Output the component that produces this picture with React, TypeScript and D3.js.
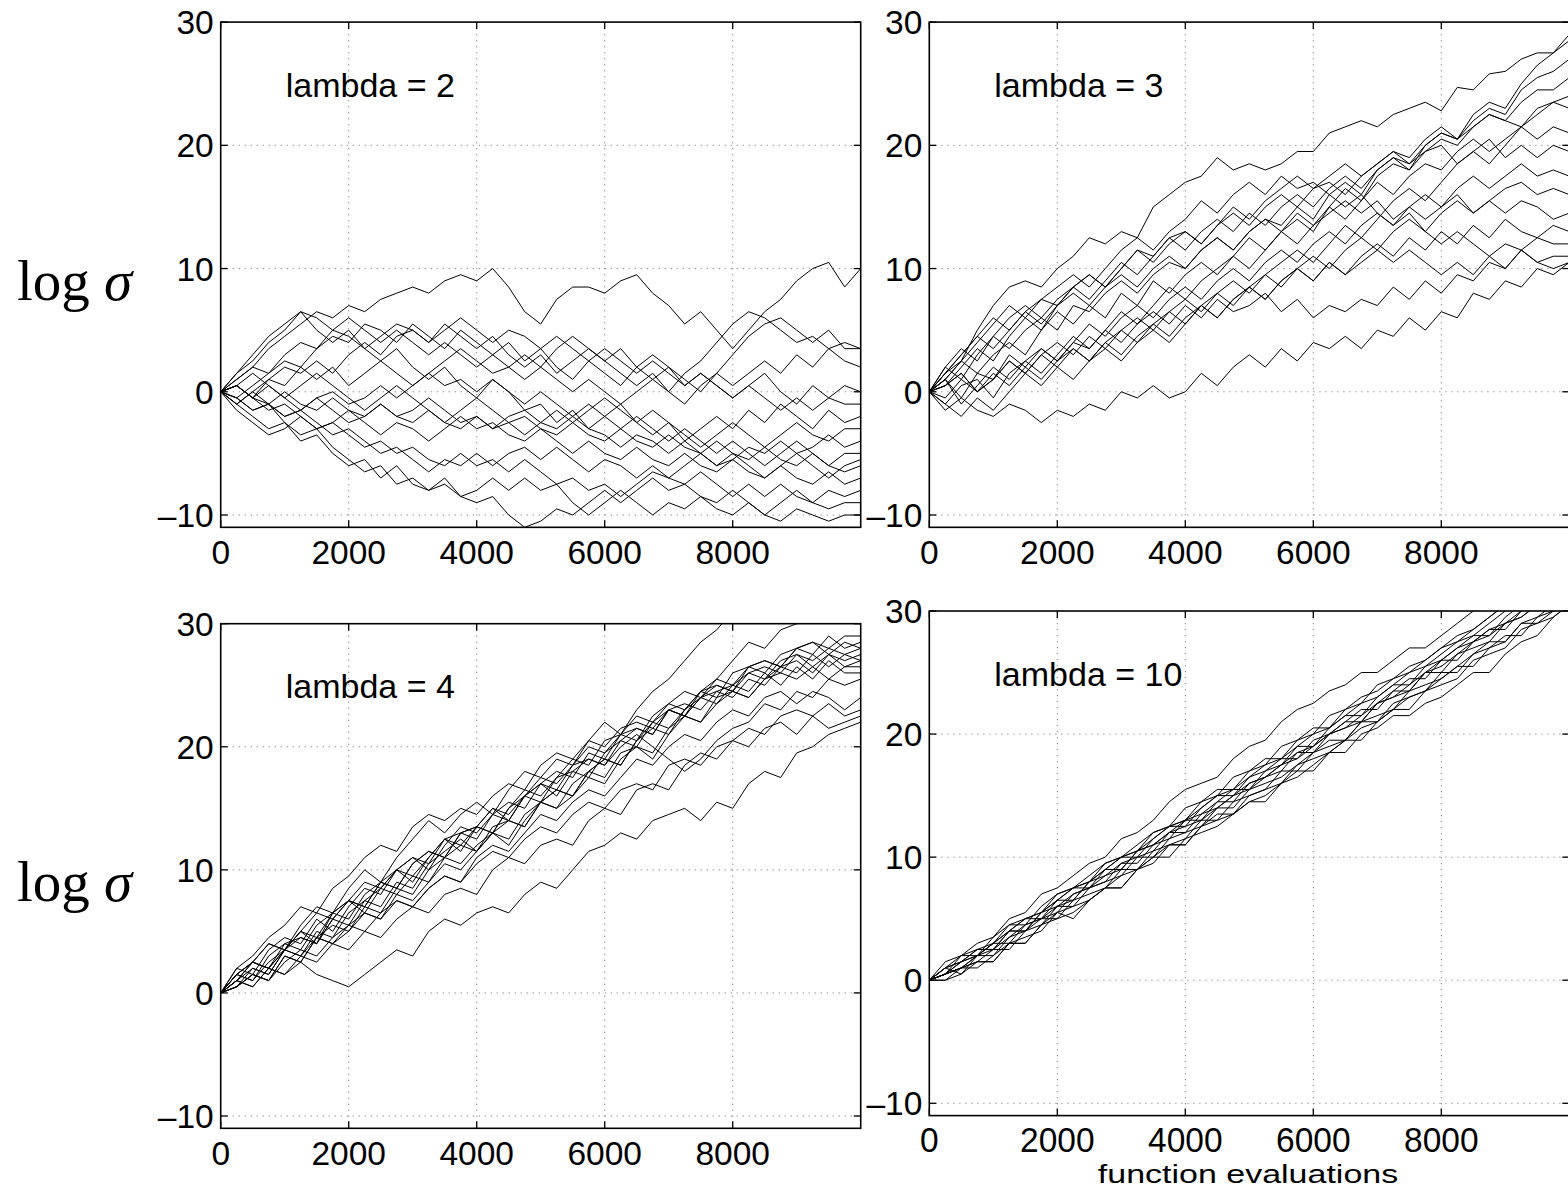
import React from "react";
import * as d3 from "d3";

// log sigma of 16 runs per lambda, read every 250 function evaluations
const evalStep = 250;
const xTicks = [0, 2000, 4000, 6000, 8000];
const yTicks = [-10, 0, 10, 20, 30];
const yGrid = [-10, 0, 10, 20];
const xGrid = [2000, 4000, 6000, 8000];

const lambda2Runs = [
  [0, 1, 2, 3.5, 4.5, 5.5, 6.5, 6, 7, 6.5, 7.5, 8, 8.5, 8, 9, 9.5, 9, 10, 8.5, 6.5, 5.5, 7.5, 8.5, 8.5, 8, 9, 9.5, 8, 7, 5.5, 6.5, 5, 3.5, 5, 6.5, 7.5, 9, 10, 10.5, 8.5, 10],
  [0, 1.5, 3, 4.5, 5.5, 6.5, 5, 4, 5, 3.5, 2.5, 3.5, 2, 1, 2, 0.5, -0.5, 1, 0, -1.5, -1, -2.5, -1.5, -3, -2, -1, -2.5, -3.5, -2.5, -4, -3, -2, -3, -1.5, -2.5, -1, -2, -3, -1.5, -2.5, -2],
  [0, -0.5, 0.5, 1.5, 2.5, 2, 3.5, 4.5, 4, 5.5, 5, 4, 5.5, 4.5, 3.5, 5, 4, 3, 4, 2.5, 3.5, 2, 1, 2.5, 1.5, 0.5, 2, 3, 2, 1, 0, 1.5, 3, 4.5, 5.5, 6, 5, 4, 5, 3.5, 3.5],
  [0, 0.5, -0.5, 1, 2, 1.5, 2.5, 1.5, 3, 4, 3, 4.5, 5, 4, 5.5, 4.5, 3.5, 4.5, 3, 2, 3, 1.5, 2.5, 3.5, 2.5, 1.5, 0.5, 1.5, 0, -1, 0.5, 1.5, 0.5, 1.5, 2.5, 1.5, 3, 2, 3.5, 2.5, 2],
  [0, -1, 0, 1, 0.5, 2, 1, 2, 0.5, 1.5, 2.5, 1.5, 0.5, 1.5, 2.5, 3.5, 2.5, 1.5, 2, 3, 2, 3.5, 4.5, 3.5, 2.5, 3.5, 2, 1, 2, 0.5, 1.5, 0.5, -0.5, 0.5, 1.5, 0, -1, 0.5, -0.5, 0.5, 0],
  [0, 0.5, -0.5, -1, 0, -1, -1.5, -0.5, -1.5, -2, -1, -2, -2.5, -1.5, -2.5, -3, -2, -3, -2.5, -2, -3, -3.5, -2.5, -3.5, -4, -3, -4, -4.5, -3.5, -4.5, -5, -4, -5, -5.5, -4.5, -5.5, -6, -5, -6, -6.5, -6],
  [0, -0.5, -1.5, -1, -2, -1.5, -0.5, -1.5, -2.5, -2, -1, -2, -1.5, -0.5, -1.5, -2.5, -2, -3, -2, -1.5, -2.5, -3, -2, -3, -3.5, -4.5, -3.5, -4, -5, -4, -5, -6, -5, -6, -7, -6, -5, -6, -7, -6, -5.5],
  [0, -1, -2, -3, -2.5, -4, -3.5, -5, -6, -5.5, -7, -6, -7.5, -8, -7, -8.5, -8, -7, -8, -7, -8, -7.5, -9, -10, -9, -8, -9, -10, -9, -9.5, -8.5, -9.5, -10, -9, -10, -10.5, -9.5, -10, -10.5, -10, -10],
  [0, -0.5, -1.5, -1, -2.5, -3.5, -3, -4.5, -5.5, -6.5, -6, -7.5, -7, -8, -7.5, -8.5, -9, -8.5, -10, -11, -10.5, -9.5, -10, -9, -8, -9, -8, -7, -8, -7.5, -8.5, -9, -8, -9, -10, -9, -8, -9, -9.5, -9, -9],
  [0, 0.5, -0.5, -1.5, -1, -2, -3, -2.5, -3.5, -4.5, -4, -5, -4.5, -5.5, -6, -5, -6, -5.5, -6.5, -5.5, -6.5, -7.5, -7, -8, -7.5, -8.5, -7.5, -6.5, -7, -6, -5, -6, -5.5, -4.5, -5, -4, -5, -4.5, -3.5, -4.5, -4],
  [0, -1.5, -2.5, -3.5, -3, -2, -3, -2.5, -1.5, -2.5, -3.5, -2.5, -3, -4, -3, -2, -3, -2.5, -3.5, -4, -3, -4, -5, -4, -5, -5.5, -4.5, -5.5, -6, -5, -6, -6.5, -5.5, -6.5, -7, -6, -7, -7.5, -6.5, -7.5, -7],
  [0, 1, 2, 1.5, 3, 4, 3.5, 5, 4.5, 3.5, 4.5, 5.5, 5, 4, 5, 6, 5, 4, 5, 4.5, 3.5, 4.5, 3.5, 2.5, 3.5, 2.5, 1.5, 2.5, 1.5, 0.5, 1.5, 0.5, -0.5, 0.5, -0.5, -1.5, -0.5, -1.5, -0.5, -1, -1],
  [0, 0.5, 1.5, 0.5, -0.5, 0.5, 1.5, 0.5, -0.5, -1.5, -0.5, 0.5, -0.5, -1.5, -2.5, -1.5, -0.5, -1.5, -2.5, -3.5, -2.5, -1.5, -2.5, -1.5, -0.5, -1.5, -2.5, -1.5, -2.5, -3.5, -4.5, -3.5, -2.5, -3.5, -4.5, -3.5, -2.5, -3.5, -4, -3, -3],
  [0, -1, 0, -1, -2, -1.5, -2.5, -3.5, -3, -4, -5, -4.5, -5.5, -6.5, -5.5, -6, -5, -6, -5, -4.5, -5.5, -4.5, -5.5, -6.5, -5.5, -6, -7, -6, -7, -7.5, -6.5, -7.5, -8.5, -7.5, -8.5, -7.5, -8.5, -9, -8, -8.5, -8],
  [0, 1.5, 2.5, 4, 5, 6.5, 6, 5, 6, 5, 4, 5, 4, 3, 4, 3, 2, 3, 2, 1, 2, 1, 0, 1, 0, -1, 0, 1, 0, 1.5, 2.5, 4, 5.5, 6.5, 6, 5, 4, 4.5, 3.5, 4, 3.5],
  [0, 0.5, -0.5, 0.5, -0.5, -1.5, -0.5, 0, -1, -0.5, 0.5, -0.5, 0.5, 1.5, 0.5, 1, 0, 1, 0, -1, 0, -1, -2, -1, -2, -3, -2, -3, -4, -3, -4, -5, -4, -5, -6, -5, -4, -5, -6, -5, -5],
];

const lambda3Runs = [
  [0, 1.5, 2.5, 5, 7, 8.5, 9, 8.5, 10, 11, 12.5, 12, 13, 12.5, 15, 16, 17, 17.5, 19, 18, 18.5, 18, 18.5, 19.5, 19.5, 21, 21.5, 22, 21.5, 22.5, 23, 23.5, 22.8, 24.7, 24.5, 25.8, 26, 27, 27.5, 27.5, 28.5],
  [0, -1.5, -0.5, -1.5, -2, -1, -1.5, -2.5, -1.5, -2, -1, -1.5, 0, -0.5, 0.5, -0.5, 0, 1.5, 0.5, 2, 3, 2, 3.5, 2.5, 4, 3.5, 4.5, 3.5, 5, 4.5, 6, 5, 6.5, 6, 8, 7.5, 9, 8.5, 10, 9.5, 10.5],
  [0, 1, -0.5, 1.5, 1, 3, 2, 3.5, 2.5, 4, 3.5, 5, 4, 5.5, 6.5, 5.5, 7, 6, 7.5, 6.5, 7, 8, 6.5, 7.5, 6, 7, 6.5, 7.5, 7, 8.5, 7.5, 9, 8, 9.5, 9, 10.5, 10, 11.5, 10.5, 11, 11],
  [0, 1, 2.5, 1.5, 3, 4, 3, 5, 6.5, 5.5, 7, 6, 8, 7, 9, 8, 9.5, 10.5, 9.5, 11, 12.5, 11.5, 13, 14, 13, 15, 16.5, 15.5, 17.5, 18.5, 18, 20, 21, 20.5, 22.5, 23.5, 23, 25, 26.5, 27.5, 29],
  [0, 2, 1, 3, 4.5, 3.5, 5, 6, 5, 7, 6.5, 8, 9, 8, 9.5, 10.5, 10, 11.5, 12.5, 11.5, 13, 14, 13.5, 15, 14, 16, 17, 16, 18, 19, 18.5, 20, 21, 20.5, 22, 23, 22.5, 24.5, 25.5, 26, 27],
  [0, 0.5, 2, 3.5, 2.5, 4.5, 6, 5, 7, 8.5, 7.5, 9, 10.5, 9.5, 11, 12.5, 11.5, 13, 14, 13, 14.5, 13.5, 15, 16, 15, 16.5, 17.5, 16.5, 18, 19, 18, 19.5, 20.5, 20, 21.5, 22.5, 22, 23.5, 24.5, 24.5, 25.5],
  [0, 1.5, 3, 4.5, 6, 5, 6.5, 7.5, 7, 8.5, 9.5, 8.5, 10, 11.5, 11, 12.5, 13, 12, 13.5, 14.5, 13.5, 15, 16, 15, 16.5, 17, 16, 17.5, 18.5, 19.5, 19, 20.5, 21.5, 20.5, 21.5, 22.5, 22, 21.5, 23, 23.5, 23],
  [0, -1, 0.5, 1, -0.5, 1.5, 2.5, 1.5, 3, 4.5, 3.5, 5, 6.5, 5.5, 7, 8.5, 7.5, 9, 10, 11, 10, 11.5, 13, 12, 13.5, 15, 14, 15.5, 17, 16, 17.5, 18.5, 18, 19.5, 20.5, 19.5, 20.5, 21.5, 20.5, 21.5, 21],
  [0, 2, 3.5, 2.5, 4.5, 6, 7, 6, 7.5, 8.5, 9.5, 8.5, 10, 11.5, 10.5, 12, 13, 12, 13.5, 15, 14, 15.5, 16.5, 17.5, 16.5, 17.5, 18.5, 17.5, 18.5, 19.5, 18.5, 19.5, 20, 18.5, 19.5, 20.5, 19, 20, 19, 20, 19.5],
  [0, 1, -1, 0.5, 2, 1, 2.5, 3.5, 2.5, 4, 5.5, 4.5, 6, 7, 6, 7.5, 8.5, 7.5, 9, 10, 9, 10.5, 11.5, 10.5, 12, 13, 12, 13.5, 14.5, 13.5, 15, 16, 15, 16.5, 17.5, 16.5, 17.5, 18.5, 17.5, 18, 17.5],
  [0, 0.5, 1.5, 0, 1, 2.5, 1.5, 3, 2, 3.5, 2.5, 4, 5, 4, 5.5, 6.5, 5.5, 7, 8, 7, 8.5, 9.5, 8.5, 10, 11, 10, 11.5, 12.5, 11.5, 13, 14, 13, 14.5, 15.5, 14.5, 15.5, 16.5, 17, 16, 16.5, 16],
  [0, 1.5, 3, 4.5, 3.5, 5, 6.5, 5.5, 7, 8, 7, 8.5, 9.5, 8.5, 10, 11, 10, 11.5, 12.5, 11.5, 13, 14, 13, 14.5, 13.5, 14.5, 15.5, 14.5, 15.5, 14, 15, 14, 15, 16, 14.5, 15.5, 14.5, 15.5, 15, 14, 14.5],
  [0, -1, -2, -0.5, -1.5, 0, 1.5, 0.5, 2, 1, 2.5, 3.5, 2.5, 4, 5, 4, 5.5, 7, 6, 7.5, 8.5, 7.5, 9, 10, 9, 10.5, 9.5, 11, 12, 11, 12.5, 11.5, 13, 12, 13.5, 12.5, 14, 13, 12.5, 13.5, 13],
  [0, 1, 2.5, 4, 5.5, 7, 6, 7.5, 8.5, 9.5, 8.5, 10, 11.5, 12.5, 11.5, 13, 14, 15.5, 14.5, 16, 17, 16, 17.5, 16.5, 17, 16, 15, 16, 14.5, 13.5, 14.5, 13, 12, 13, 12, 11, 12, 11.5, 12.5, 12, 12],
  [0, -0.5, 1, 0, 1.5, 0.5, 2, 1, 2.5, 3.5, 2.5, 4, 3, 4.5, 5.5, 4.5, 6, 7, 6, 7.5, 8.5, 7.5, 9, 10, 9, 10.5, 9.5, 10.5, 11.5, 10.5, 11.5, 10.5, 9.5, 10.5, 9.5, 11, 10, 11.5, 10.5, 10, 10.5],
  [0, 0.5, 1.5, 0, 1, 2.5, 1.5, 3, 4, 3, 4.5, 3.5, 5, 6, 5, 6.5, 7.5, 6.5, 8, 9, 8, 9.5, 10.5, 11.5, 10.5, 12, 13.5, 12.5, 14, 15.5, 16.5, 15.5, 17, 18.5, 19.5, 18.5, 20, 21.5, 22.5, 23.5, 24],
];

const lambda4Runs = [
  [0, 1.5, 2.5, 4, 3.5, 5.5, 7, 6.5, 8.5, 10, 9, 11, 12.5, 14, 13, 14.5, 15.5, 14.5, 16.5, 18, 17.5, 19, 18.5, 20.5, 22, 21, 23, 24.5, 25.5, 27, 28.5, 29.5, 31],
  [0, 1, 2.5, 2, 3.5, 5, 4.5, 6.5, 7.5, 7, 9, 10, 9.5, 11, 12.5, 12, 13.5, 15, 14.5, 16, 17.5, 17, 18.5, 20, 19.5, 21, 22.5, 22, 23.5, 24.5, 24, 25.5, 27, 28.5, 28, 29.5, 30, 31],
  [0, 1, 0.5, 2, 1.5, 2.5, 1.5, 1, 0.5, 1.5, 2.5, 3.5, 3, 5, 6, 5.5, 6.5, 7, 6.5, 8, 9, 8.5, 10, 11.5, 12, 13, 12.5, 14, 14.5, 15, 14, 15.5, 15, 17, 18, 17.5, 19.5, 20, 21, 21.5, 22],
  [0, 1.5, 1, 3, 4, 3.5, 5.5, 6.5, 6, 8, 9, 8.5, 10.5, 11.5, 11, 13, 13.5, 13, 15, 16.5, 16, 17.5, 19, 18.5, 20.5, 21, 20.5, 22.5, 23.5, 23, 24.5, 25.5, 25, 26.5, 27, 26.5, 28, 28.5, 28, 29, 29],
  [0, 0.5, 2, 1.5, 3.5, 3, 5, 4.5, 6.5, 7.5, 7, 9, 8.5, 10.5, 11.5, 12.5, 11.5, 13, 14, 13.5, 15.5, 16.5, 16, 18, 19, 18.5, 20.5, 21.5, 21, 23, 24, 23.5, 25, 26, 25.5, 27, 27.5, 27, 28, 27.5, 28],
  [0, 2, 1.5, 3.5, 4.5, 4, 6, 5, 7, 8.5, 8, 10, 11, 10, 12, 13.5, 13, 14.5, 14, 16, 17, 16.5, 18.5, 19, 18.5, 20.5, 21.5, 21, 23, 22.5, 24, 25, 24.5, 26, 26.5, 26, 27.5, 26.5, 27.5, 27, 27.5],
  [0, 0.5, 1.5, 1, 3, 2.5, 4.5, 4, 5, 6.5, 6, 8, 7.5, 9, 10.5, 10, 11.5, 13, 12, 14, 15.5, 15, 16, 17.5, 17, 19, 20, 19, 21, 22.5, 22, 23.5, 24.5, 24, 25.5, 26, 25.5, 26.5, 25.5, 26.5, 26.5],
  [0, 1.5, 2.5, 2, 3.5, 5, 4, 6, 7.5, 6.5, 8.5, 10, 9, 11, 12.5, 11.5, 13.5, 15, 14, 16, 17, 16, 18, 19, 18.5, 20, 21, 20, 19, 18, 19, 20.5, 21.5, 22, 23.5, 23, 24.5, 24, 25.5, 25, 25.5],
  [0, 0.5, 1.5, 1, 2.5, 3.5, 3, 4.5, 5.5, 5, 6.5, 7.5, 7, 8.5, 9.5, 9, 11, 12, 11.5, 13, 14.5, 14, 15.5, 16.5, 16, 17.5, 19, 18.5, 20, 21, 20.5, 22, 23, 22.5, 24, 24.5, 23.5, 24.5, 24, 23, 24],
  [0, 1, 0.5, 2, 1.5, 3, 2.5, 4, 3.5, 5, 4.5, 6, 7, 6.5, 8, 8.5, 8, 10, 11, 10.5, 12, 12.5, 12, 14, 15, 14.5, 16.5, 17, 16.5, 18.5, 19.5, 19, 20.5, 21.5, 21, 22.5, 23, 22.5, 23.5, 22.5, 23],
  [0, 2, 3, 4.5, 5.5, 7, 6.5, 8.5, 9.5, 11, 12, 11.5, 13.5, 14.5, 14, 15, 14.5, 16, 17, 16.5, 18.5, 19.5, 19, 20.5, 20, 21.5, 22, 21.5, 23, 22.5, 24, 24.5, 24, 25.5, 25, 26.5, 27, 26, 27.5, 26.5, 27],
  [0, 1, 2, 1.5, 3.5, 4.5, 4, 6, 5.5, 7.5, 8.5, 8, 9.5, 9, 11, 12, 11.5, 13.5, 14, 13.5, 15.5, 16.5, 16, 18, 19, 18.5, 20.5, 22, 21.5, 23, 24.5, 24, 26, 26.5, 26, 27.5, 28, 27.5, 29, 28, 28.5],
  [0, 1.5, 1, 2.5, 3.5, 3, 4.5, 4, 5.5, 6.5, 6, 7.5, 7, 8.5, 9.5, 9, 10.5, 11.5, 11, 12.5, 13.5, 13, 14.5, 15.5, 15, 16.5, 17, 16.5, 18.5, 19, 18.5, 20, 20.5, 20, 21.5, 22, 21, 22.5, 21.5, 22, 22.5],
  [0, 1.5, 2.5, 4, 3.5, 5, 6.5, 6, 7.5, 9, 8.5, 10, 11, 10.5, 12.5, 13, 12.5, 14.5, 15.5, 15, 17, 18, 17.5, 19.5, 19, 21, 21.5, 21, 23, 23.5, 23, 24.5, 25, 24.5, 26, 25, 26.5, 25.5, 27, 26, 26],
  [0, 0.5, 1.5, 1, 3, 2.5, 4.5, 5.5, 5, 7, 6.5, 8.5, 8, 10, 11, 10.5, 12, 13, 12.5, 14.5, 15.5, 15, 17, 18, 17.5, 19.5, 20, 19.5, 21.5, 22.5, 22, 24, 24.5, 24, 25.5, 26.5, 26, 27.5, 26.5, 27.5, 27],
  [0, 1, 2.5, 2, 4, 4.5, 4, 6.5, 7.5, 7, 9, 8.5, 10.5, 11.5, 11, 13, 13.5, 13, 15, 16, 15.5, 17.5, 18, 17.5, 19.5, 20.5, 20, 22, 23, 22.5, 24.5, 25, 24.5, 26.5, 27, 26.5, 28, 28.5, 27.5, 28.5, 28],
];

const lambda10Runs = [
  [0, 1.5, 2, 3, 3.5, 5, 5.5, 7, 7.5, 8.5, 9.5, 10, 11.5, 12, 13, 14.5, 15.5, 16, 16.5, 18, 19, 19.5, 21, 22, 22.5, 23.5, 24, 25, 25, 26, 27, 27, 28, 29, 30, 31],
  [0, 0.5, 2, 2.5, 3, 4.5, 5, 5.5, 7, 7.5, 8, 9.5, 10, 10.5, 12, 12.5, 13, 14.5, 15.5, 15.5, 17, 18, 18, 19.5, 20.5, 20.5, 22, 23, 23.5, 24.5, 25.5, 26, 27, 28, 28.5, 29.5, 30.5],
  [0, 1, 0.5, 2, 3, 3, 4.5, 5, 5.5, 7, 7.5, 8, 9.5, 10, 10.5, 12, 12.5, 13, 14, 15, 15.5, 16.5, 17.5, 18, 19, 20, 20.5, 21.5, 22.5, 23, 24, 25, 25.5, 26.5, 27.5, 28, 29, 29.5, 30.5],
  [0, 0, 0.5, 1.5, 1.5, 3, 3, 4.5, 5.5, 5, 6.5, 7.5, 7.5, 9, 9.5, 11, 11, 12.5, 13, 13.5, 14.5, 14.5, 16, 16.5, 17.5, 18.5, 18.5, 20, 20.5, 21.5, 21.5, 22.5, 23, 24, 25, 25, 26.5, 27.5, 28, 29.5, 30.5],
  [0, 0.5, 1.5, 2, 3, 4, 4, 5.5, 6.5, 6.5, 8, 9, 9, 10.5, 11, 12, 13, 13, 14.5, 15.5, 15.5, 17, 18, 18, 19.5, 20, 21, 22, 22, 23.5, 24.5, 24.5, 26, 27, 27.5, 28.5, 29, 30, 31],
  [0, 1, 1.5, 2.5, 2.5, 4, 5, 5, 6.5, 7.5, 7.5, 9, 10, 10, 11.5, 12.5, 12.5, 14, 15, 15, 16.5, 17, 17.5, 19, 19, 20.5, 21.5, 21.5, 23, 24, 24, 25.5, 26, 27, 28, 28, 29.5, 30.5],
  [0, 0.5, 1, 1.5, 2.5, 2.5, 4, 5, 5, 6.5, 7, 7.5, 9, 9, 10.5, 11, 11.5, 13, 13, 14.5, 15, 15.5, 17, 17, 18.5, 19, 19.5, 21, 21, 22.5, 23, 23.5, 25, 25, 26.5, 27, 27.5, 29, 29, 30, 31],
  [0, 0.5, 1, 2, 2, 3.5, 4, 4.5, 6, 6, 7.5, 8, 8.5, 10, 10, 11.5, 12, 12.5, 14, 14, 15.5, 16, 16.5, 17.5, 18.5, 19.5, 19.5, 21, 21.5, 22, 23.5, 24, 24.5, 25.5, 26.5, 27.5, 27.5, 29, 29.5, 30.5],
  [0, 1, 2, 2, 3.5, 4.5, 4.5, 6, 7, 7.5, 8.5, 9.5, 10, 11, 12, 12.5, 14, 14.5, 15, 16.5, 17, 17.5, 19, 19.5, 20, 21.5, 22, 22.5, 24, 24.5, 25, 26, 27, 27.5, 28.5, 29.5, 30.5],
  [0, 0.5, 1, 1, 2, 3, 3, 4.5, 5, 5.5, 6.5, 7.5, 7.5, 9, 10, 10, 11.5, 12, 12.5, 13.5, 14.5, 15, 16, 17, 17, 18.5, 19.5, 19.5, 21, 22, 22, 23.5, 24, 24.5, 26, 26.5, 27, 28.5, 29, 29.5, 30.5],
  [0, 1, 1.5, 2, 3, 4, 4, 5.5, 6, 6.5, 8, 8.5, 9, 10.5, 11, 11.5, 13, 13.5, 14, 15, 16, 16.5, 17.5, 18.5, 19, 20, 21, 21, 22.5, 23.5, 23.5, 25, 26, 26, 27.5, 28.5, 28.5, 30, 31],
  [0, 0.5, 1.5, 2.5, 2.5, 4, 5, 5.5, 6.5, 7.5, 8, 9, 10, 10.5, 11.5, 12.5, 13, 14, 15, 15.5, 16.5, 17.5, 18, 19, 20, 20.5, 21.5, 22.5, 23, 24, 25, 25.5, 26.5, 27.5, 28, 29, 30, 31],
  [0, 0.5, 1, 2, 2.5, 3.5, 4.5, 5, 6, 7, 7.5, 8.5, 9.5, 9.5, 11, 12, 12, 13.5, 14.5, 14.5, 16, 16.5, 17, 18.5, 18.5, 20, 20.5, 21, 22.5, 23, 23.5, 25, 25, 26.5, 27, 27.5, 29, 29.5, 30.5],
  [0, 0, 1, 1.5, 1.5, 3, 3.5, 4, 5.5, 6, 6.5, 7.5, 8.5, 9, 10, 11, 11, 12.5, 13.5, 13.5, 15, 15.5, 16, 17.5, 18, 18.5, 19.5, 20.5, 21, 22, 23, 23.5, 24.5, 25.5, 25.5, 27, 28, 28, 29.5, 30, 31],
];

const panelLabels = ["lambda = 2", "lambda = 3", "lambda = 4", "lambda = 10"];
const panelRuns = [lambda2Runs, lambda3Runs, lambda4Runs, lambda10Runs];

// pixel layout of the four axes boxes (y of the 30 and -10 ticks)
const layout = [
  { left: 220.7, y30: 22.1, yM10: 515, tickBase: 564, tickScale: 1 },
  { left: 929.3, y30: 22.1, yM10: 515, tickBase: 564, tickScale: 1 },
  { left: 220.7, y30: 623.7, yM10: 1116, tickBase: 1165, tickScale: 1 },
  { left: 929.3, y30: 611, yM10: 1103.3, tickBase: 1152, tickScale: 1.02 },
];

const sans = "'Liberation Sans', Arial, Helvetica, sans-serif";
const fmt = (v: number) => (v < 0 ? "\u2013" + Math.abs(v) : String(v));

function Panel({ idx }: { idx: number }) {
  const L = layout[idx];
  const runs = panelRuns[idx];
  const x = d3.scaleLinear().domain([0, 10000]).range([L.left, L.left + 640]);
  const y = d3.scaleLinear().domain([-10, 30]).range([L.yM10, L.y30]);
  const top = y(30);
  const bottom = y(-11);
  const right = x(10000);
  const line = d3
    .line<number>()
    .x((d, i) => x(i * evalStep))
    .y((d) => y(d));
  const clipId = `clip${idx}`;
  const tick = 7;

  return (
    <g>
      <defs>
        <clipPath id={clipId}>
          <rect x={L.left} y={top} width={right - L.left} height={bottom - top} />
        </clipPath>
      </defs>
      <g stroke="#808080" strokeWidth={1} strokeDasharray="1.2,4.8">
        {xGrid.map((t) => (
          <line key={"gx" + t} x1={x(t)} x2={x(t)} y1={top} y2={bottom} />
        ))}
        {yGrid.map((t) => (
          <line key={"gy" + t} x1={L.left} x2={right} y1={y(t)} y2={y(t)} />
        ))}
      </g>
      <g clipPath={`url(#${clipId})`} fill="none" stroke="#000" strokeWidth={1}>
        {runs.map((r, i) => (
          <path key={i} d={line(r) || ""} />
        ))}
      </g>
      <g stroke="#000" strokeWidth={1.3}>
        {xTicks.map((t) => (
          <g key={"tx" + t}>
            <line x1={x(t)} x2={x(t)} y1={bottom} y2={bottom - tick} />
            <line x1={x(t)} x2={x(t)} y1={top} y2={top + tick} />
          </g>
        ))}
        {yTicks.map((t) => (
          <g key={"ty" + t}>
            <line x1={L.left} x2={L.left + tick} y1={y(t)} y2={y(t)} />
            <line x1={right} x2={right - tick} y1={y(t)} y2={y(t)} />
          </g>
        ))}
      </g>
      <rect
        x={L.left}
        y={top}
        width={right - L.left}
        height={bottom - top}
        fill="none"
        stroke="#000"
        strokeWidth={1.6}
      />
      <g fontFamily={sans} fontSize={33.5} fill="#000">
        {yTicks.map((t) => (
          <text key={"ly" + t} x={L.left - 7} y={y(t) + 12} textAnchor="end">
            {fmt(t)}
          </text>
        ))}
        {xTicks.map((t) => (
          <text
            key={"lx" + t}
            transform={`translate(${x(t)},${L.tickBase}) scale(1,${L.tickScale})`}
            textAnchor="middle"
          >
            {t}
          </text>
        ))}
      </g>
      <text x={L.left + 65} y={L.y30 + 74.5} fontFamily={sans} fontSize={34}>
        {panelLabels[idx]}
      </text>
    </g>
  );
}

export default function App() {
  return (
    <svg
      width={1568}
      height={1189}
      style={{ position: "absolute", left: 0, top: 0, background: "#fff" }}
    >
      <rect width={1568} height={1189} fill="#fff" />
      {[0, 1, 2, 3].map((i) => (
        <Panel key={i} idx={i} />
      ))}
      {[300, 901].map((b) => (
        <text key={b} x={17} y={b} fontFamily="'Liberation Serif', 'Times New Roman', serif" fontSize={57}>
          log <tspan fontStyle="italic">σ</tspan>
        </text>
      ))}
      <text
        transform="translate(1248,1183) scale(1,0.74)"
        textAnchor="middle"
        fontFamily={sans}
        fontSize={34}
      >
        function evaluations
      </text>
    </svg>
  );
}
